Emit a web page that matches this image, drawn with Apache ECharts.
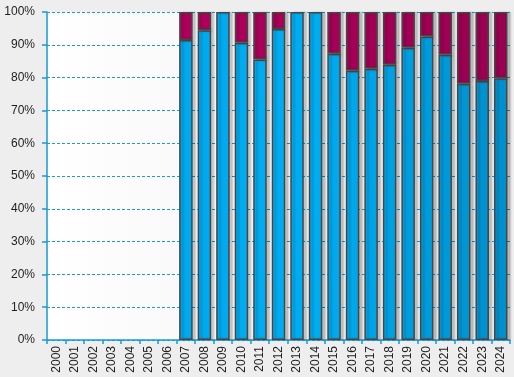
<!DOCTYPE html>
<html>
<head>
<meta charset="utf-8">
<script src="https://cdn.jsdelivr.net/npm/echarts@6/dist/echarts.min.js"></script>
<style>
html, body { margin: 0; padding: 0; background: #eeeeee; }
#chart { width: 514px; height: 377px; }
</style>
</head>
<body>
<div id="chart"></div>
<script>
var years = ['2000','2001','2002','2003','2004','2005','2006','2007','2008','2009','2010','2011','2012',
             '2013','2014','2015','2016','2017','2018','2019','2020','2021','2022','2023','2024'];
// share in blue (percent), null = no data
var blueShare = [null,null,null,null,null,null,null,91.5,94.4,100,90.6,85.5,94.8,
                 100,100,87.3,82.1,82.7,83.9,89.1,92.5,87.0,78.1,79.0,79.8];
var redShare  = [null,null,null,null,null,null,null,8.5,5.6,null,9.4,14.5,5.2,
                 null,null,12.7,17.9,17.3,16.1,10.9,7.5,13.0,21.9,21.0,20.2];
var yTicks = [0,10,20,30,40,50,60,70,80,90,100];

var chart = echarts.init(document.getElementById('chart'));

var blueFill = new echarts.graphic.LinearGradient(180, 0, 510, 0, [
    {offset: 0, color: '#00a9ed'},
    {offset: 0.4, color: '#00adf2'},
    {offset: 1, color: '#008fcb'}
], true);
var redFill = new echarts.graphic.LinearGradient(180, 0, 510, 0, [
    {offset: 0, color: '#b0005c'},
    {offset: 1, color: '#990052'}
], true);

var barStyle = function (fill) {
    return {
        color: fill,
        borderColor: '#464646',
        borderWidth: 1.5,
        shadowColor: 'rgba(0,0,0,0.2)',
        shadowOffsetX: 3,
        shadowOffsetY: 0,
        shadowBlur: 2
    };
};

chart.setOption({
    backgroundColor: '#eeeeee',
    animation: false,
    grid: {
        left: 47, right: 4, top: 12, bottom: 37,
        show: true,
        borderWidth: 0,
        backgroundColor: new echarts.graphic.LinearGradient(0, 0, 1, 0, [
            {offset: 0, color: '#ffffff'},
            {offset: 1, color: '#ececec'}
        ])
    },
    xAxis: {
        type: 'category',
        data: years,
        axisLine: {lineStyle: {color: '#1a9ad6', width: 1.5}},
        axisTick: {show: true, length: 4, lineStyle: {color: '#1a9ad6', width: 1.5}},
        axisLabel: {
            rotate: 90, margin: 6, interval: 0,
            color: '#1e1e1e', fontSize: 12, fontFamily: 'Liberation Sans, Arial, sans-serif'
        },
        splitLine: {show: false}
    },
    yAxis: {
        type: 'value',
        min: 0, max: 100, interval: 10,
        axisLine: {show: true, lineStyle: {color: '#1a9ad6', width: 1.5}},
        axisTick: {show: true, length: 5, lineStyle: {color: '#1a9ad6', width: 1.5}},
        axisLabel: {
            margin: 12,
            color: '#1e1e1e', fontSize: 12, fontFamily: 'Liberation Sans, Arial, sans-serif',
            formatter: function (v) { return yTicks.indexOf(v) >= 0 ? v + '%' : ''; }
        },
        splitLine: {show: true, lineStyle: {color: '#1a9ad6', type: [3, 2], width: 1}}
    },
    series: [
        {
            type: 'bar', stack: 'share', data: blueShare,
            barWidth: '73%',
            itemStyle: barStyle(blueFill)
        },
        {
            type: 'bar', stack: 'share', data: redShare,
            barWidth: '73%',
            itemStyle: barStyle(redFill)
        }
    ]
});
</script>
</body>
</html>
